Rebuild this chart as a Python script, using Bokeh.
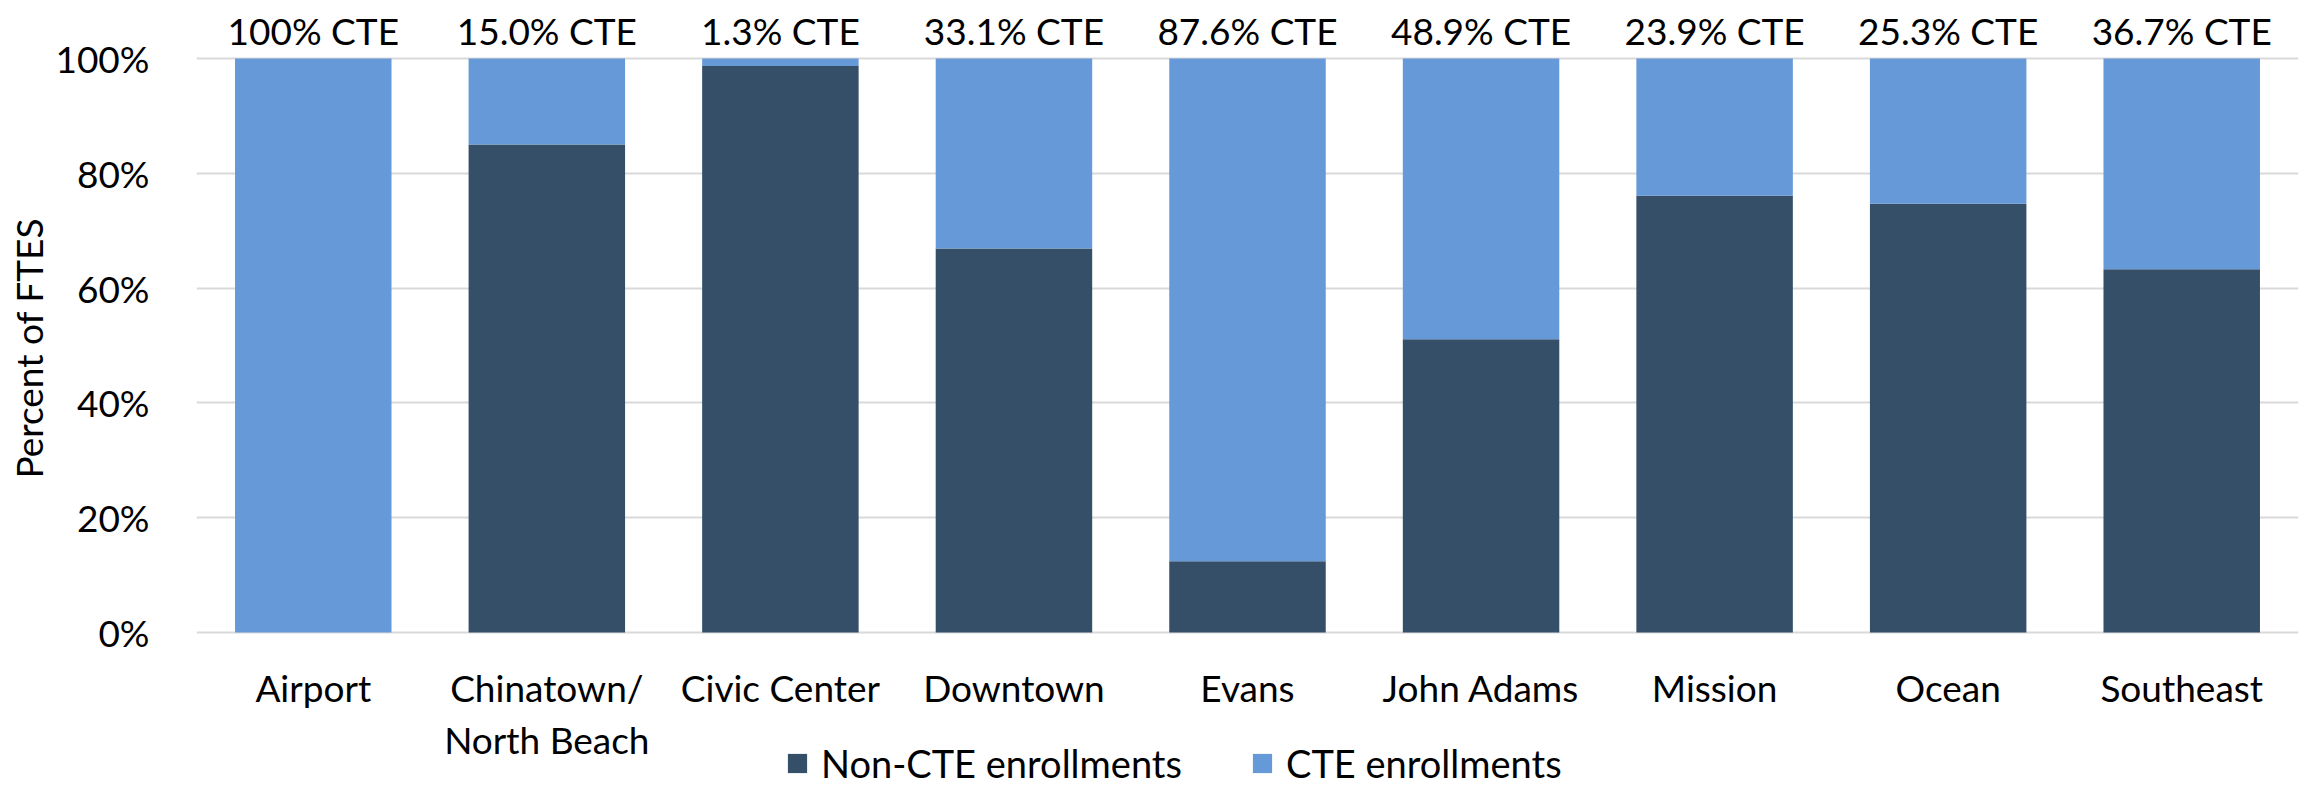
from bokeh.plotting import figure
from bokeh.models import (ColumnDataSource, FactorRange, Range1d, FixedTicker, Legend,
                          LegendItem, Title)
from bokeh.core.properties import value
from bokeh.embed import file_html
from bokeh.resources import INLINE

campuses = ["Airport", "Chinatown/\nNorth Beach", "Civic Center", "Downtown", "Evans",
            "John Adams", "Mission", "Ocean", "Southeast"]
non_cte = [0.0, 85.0, 98.7, 66.9, 12.4, 51.1, 76.1, 74.7, 63.3]
cte = [100.0, 15.0, 1.3, 33.1, 87.6, 48.9, 23.9, 25.3, 36.7]
cte_labels = ["100% CTE", "15.0% CTE", "1.3% CTE", "33.1% CTE", "87.6% CTE",
              "48.9% CTE", "23.9% CTE", "25.3% CTE", "36.7% CTE"]
y_ticks = [0, 20, 40, 60, 80, 100]
y_tick_labels = ["0%", "20%", "40%", "60%", "80%", "100%"]
series_names = ["Non-CTE enrollments", "CTE enrollments"]
y_title = "Percent of FTES"
colors = ["#354F69", "#6699D8"]

FONT = "Lato"
FS = "37px"

src = ColumnDataSource(dict(campus=campuses, noncte=non_cte, cte=cte,
                            top=[100.0] * len(campuses), label=cte_labels))

# frame spans the whole figure height; 100% sits at 58px, 0% at 632px from the top
p = figure(width=2310, height=786, x_range=FactorRange(*campuses, range_padding=0),
           y_range=Range1d(-26.83, 110.1), output_backend="svg", toolbar_location=None,
           min_border_left=196, min_border_right=12, min_border_top=0, min_border_bottom=0)
p.outline_line_color = None

rs = p.vbar_stack(["noncte", "cte"], x="campus", width=0.67, color=colors, source=src,
                  line_color=None)

p.text(x="campus", y="top", text="label", source=src, text_align="center",
       text_baseline="alphabetic", y_offset=-28, text_font=value(FONT),
       text_font_size=FS, text_color="#000000")

p.xgrid.visible = False
p.ygrid.ticker = FixedTicker(ticks=y_ticks)
p.ygrid.grid_line_color = "#D9D9D9"
p.ygrid.grid_line_width = 2
p.yaxis.ticker = FixedTicker(ticks=y_ticks)
p.yaxis.major_label_overrides = {t: l for t, l in zip(y_ticks, y_tick_labels)}
for ax in (p.xaxis[0], p.yaxis[0]):
    ax.axis_line_color = None
    ax.major_tick_line_color = None
    ax.minor_tick_line_color = None
    ax.major_label_text_font = FONT
    ax.major_label_text_font_size = FS
    ax.major_label_text_color = "#000000"
p.yaxis.major_label_standoff = 41
p.xaxis.fixed_location = 0
p.xaxis.major_label_standoff = 27
p.xaxis.major_label_text_line_height = 1.15

p.add_layout(Title(text=y_title, align="left", offset=308, vertical_align="top",
                   standoff=0, text_font=FONT, text_font_size=FS,
                   text_font_style="normal", text_color="#000000"), "left")

legend = Legend(items=[LegendItem(label=series_names[i], renderers=[rs[i]]) for i in range(2)],
                orientation="horizontal", location=(589, 0),
                label_text_font=FONT, label_text_font_size="38px", label_text_color="#000000",
                glyph_width=24, glyph_height=24, label_standoff=12, spacing=64,
                label_width=365, label_height=36, padding=0, margin=0,
                border_line_color=None, background_fill_alpha=0)
p.add_layout(legend, "center")

open("out.html", "w").write(file_html(p, INLINE))
